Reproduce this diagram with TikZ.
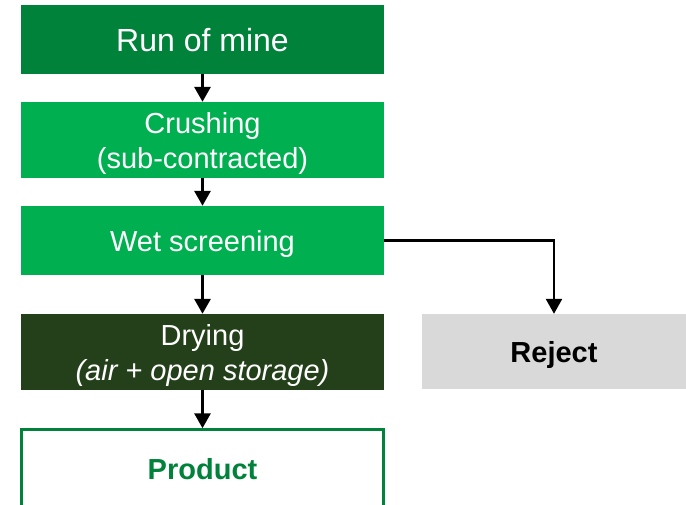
\documentclass[tikz,border=0pt]{standalone}
\usepackage{fontspec}
\setmainfont{Liberation Sans}
\usetikzlibrary{arrows.meta}
\definecolor{dkgreen}{RGB}{0,130,58}
\definecolor{mdgreen}{RGB}{0,176,80}
\definecolor{drgreen}{RGB}{36,64,26}
\definecolor{rejgray}{RGB}{217,217,217}
\begin{document}
\begin{tikzpicture}[x=1pt,y=-1pt,
  box/.style={rectangle,inner sep=0pt,minimum width=363pt,align=center,text depth=0pt,
    font=\fontsize{29}{35}\selectfont},
  flow/.style={line width=3pt,-{Triangle[length=15pt,width=16pt]}},
  side/.style={line width=2.5pt,-{Triangle[length=15pt,width=16pt]}}]
\useasboundingbox (0,0) rectangle (686,504);
\node[box,fill=dkgreen,text=white,minimum height=69pt,font=\fontsize{32}{38}\selectfont] (n1) at (202.5,39.5) {Run of mine};
\node[box,fill=mdgreen,text=white,minimum height=76pt] (n2) at (202.5,140) {Crushing\\(sub-contracted)};
\node[box,fill=mdgreen,text=white,minimum height=69pt] (n3) at (202.5,240.5) {Wet screening};
\node[box,fill=drgreen,text=white,minimum height=76pt] (n4) at (202.5,352) {Drying\\\itshape(air + open storage)};
\node[box,fill=white,draw=dkgreen,line width=2.5pt,text=dkgreen,minimum height=78pt,minimum width=362pt] (n5) at (202.5,468.5) {\bfseries Product};
\node[box,fill=rejgray,text=black,minimum width=264pt,minimum height=75pt] (rej) at (554,351.5) {\bfseries Reject};
\draw[flow] (n1) -- (n2);
\draw[flow] (n2) -- (n3);
\draw[flow] (n3) -- (n4);
\draw[flow] (n4) -- (n5);
\draw[side] (n3.east) -| (rej.north);
\end{tikzpicture}
\end{document}
